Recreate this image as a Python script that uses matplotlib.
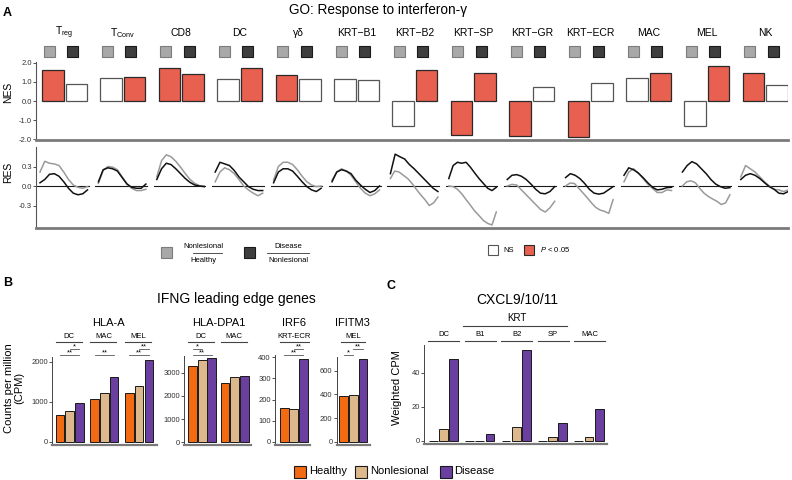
import numpy as np
import matplotlib
matplotlib.use('Agg')
import matplotlib.pyplot as plt
from matplotlib.patches import Rectangle

plt.rcParams['font.family'] = ['Liberation Sans', 'DejaVu Sans']
plt.rcParams['mathtext.fontset'] = 'custom'
plt.rcParams['mathtext.rm'] = 'Liberation Sans'
plt.rcParams['mathtext.it'] = 'Liberation Sans:italic'
plt.rcParams['mathtext.default'] = 'regular'

# ---------------- data ----------------
cell_types = ['T$_{reg}$', 'T$_{Conv}$', 'CD8', 'DC', 'γδ', 'KRT−B1', 'KRT−B2',
              'KRT−SP', 'KRT−GR', 'KRT−ECR', 'MAC', 'MEL', 'NK']
nes_nonlesional_vs_healthy = [1.62, 1.22, 1.72, 1.17, 1.38, 1.16, -1.30, -1.79, -1.84, -1.91, 1.21, -1.30, 1.49]
nes_disease_vs_nonlesional = [0.90, 1.28, 1.42, 1.74, 1.16, 1.10, 1.62, 1.46, 0.72, 0.96, 1.46, 1.83, 0.83]
sig_nonlesional_vs_healthy = [1, 0, 1, 0, 1, 0, 0, 1, 1, 1, 0, 0, 1]
sig_disease_vs_nonlesional = [0, 1, 1, 1, 0, 0, 1, 1, 0, 0, 1, 1, 0]
nes_ticks = [-2, -1, 0, 1, 2]
nes_ticklabels = ['-2.0', '-1.0', '0.0', '1.0', '2.0']
res_ticks = [-0.3, 0.0, 0.3]
res_ticklabels = ['-0.3', '0.0', '0.3']

res_nonlesional_vs_healthy = [
    [0.215, 0.38, 0.35, 0.34, 0.315, 0.215, 0.10, 0.015, -0.02, -0.035, -0.01],
    [0.04, 0.24, 0.30, 0.29, 0.25, 0.14, 0.04, -0.035, -0.07, -0.07, -0.05],
    [0.14, 0.39, 0.48, 0.45, 0.38, 0.29, 0.19, 0.10, 0.04, 0.005, 0.0],
    [0.065, 0.215, 0.28, 0.25, 0.19, 0.10, 0.0, -0.06, -0.11, -0.15, -0.11],
    [0.09, 0.30, 0.365, 0.365, 0.33, 0.25, 0.15, 0.065, 0.015, -0.01, 0.0],
    [0.09, 0.215, 0.265, 0.23, 0.165, 0.065, -0.035, -0.11, -0.15, -0.12, -0.06],
    [0.115, 0.23, 0.215, 0.165, 0.115, 0.04, -0.05, -0.135, -0.21, -0.30, -0.26, -0.17],
    [0.0, -0.01, -0.05, -0.12, -0.21, -0.295, -0.385, -0.455, -0.53, -0.575, -0.60, -0.40],
    [0.0, 0.025, 0.015, -0.06, -0.135, -0.21, -0.285, -0.36, -0.40, -0.335, -0.235],
    [0.0, 0.045, 0.04, -0.03, -0.105, -0.18, -0.26, -0.33, -0.37, -0.39, -0.42, -0.21],
    [0.065, 0.215, 0.265, 0.20, 0.115, 0.03, -0.035, -0.10, -0.10, -0.06, -0.07],
    [0.0, 0.065, 0.08, 0.05, -0.035, -0.11, -0.16, -0.20, -0.235, -0.285, -0.26, -0.135],
    [0.14, 0.315, 0.265, 0.215, 0.14, 0.065, 0.0, -0.05, -0.06, -0.085, -0.06],
]
res_disease_vs_nonlesional = [
    [0.05, 0.10, 0.18, 0.19, 0.15, 0.065, -0.035, -0.11, -0.135, -0.12, -0.06],
    [0.065, 0.25, 0.28, 0.265, 0.23, 0.13, 0.03, -0.02, -0.035, -0.035, 0.03],
    [0.10, 0.265, 0.35, 0.33, 0.265, 0.19, 0.115, 0.055, 0.015, 0.0, -0.01],
    [0.215, 0.365, 0.34, 0.315, 0.24, 0.14, 0.065, -0.01, -0.05, -0.07, -0.07],
    [0.05, 0.215, 0.265, 0.265, 0.23, 0.15, 0.065, -0.01, -0.06, -0.085, -0.035],
    [0.065, 0.215, 0.25, 0.23, 0.19, 0.09, 0.015, -0.05, -0.10, -0.07, 0.0],
    [0.19, 0.49, 0.45, 0.415, 0.33, 0.265, 0.19, 0.115, 0.04, -0.035, -0.085],
    [0.115, 0.315, 0.365, 0.35, 0.365, 0.29, 0.20, 0.115, 0.04, -0.035, -0.07, -0.02],
    [0.10, 0.165, 0.175, 0.15, 0.10, 0.03, -0.05, -0.11, -0.12, -0.085, -0.01],
    [0.13, 0.19, 0.165, 0.115, 0.04, -0.05, -0.11, -0.125, -0.11, -0.06, -0.01],
    [0.165, 0.28, 0.25, 0.20, 0.13, 0.05, -0.02, -0.06, -0.05, -0.025, -0.02],
    [0.215, 0.315, 0.375, 0.34, 0.265, 0.19, 0.10, 0.03, -0.01, -0.035, -0.025],
    [0.10, 0.165, 0.19, 0.165, 0.115, 0.05, -0.01, -0.05, -0.11, -0.12, -0.085],
]

conditions = ['Healthy', 'Nonlesional', 'Disease']

hla_a_groups = ['DC', 'MAC', 'MEL']
hla_a_healthy = [667, 1067, 1217]
hla_a_nonlesional = [775, 1210, 1383]
hla_a_disease = [975, 1617, 2042]
hla_a_ticks = [0, 1000, 2000]
hla_a_sig = [(0, 1, 2, '*', 1), (0, 0, 2, '**', 0), (1, 0, 2, '**', 0), (2, 1, 2, '**', 1), (2, 0, 2, '**', 0)]

hla_dpa1_groups = ['DC', 'MAC']
hla_dpa1_healthy = [3300, 2555]
hla_dpa1_nonlesional = [3560, 2800]
hla_dpa1_disease = [3620, 2870]
hla_dpa1_ticks = [0, 1000, 2000, 3000]
hla_dpa1_sig = [(0, 0, 1, '*', 1), (0, 0, 2, '**', 0)]

irf6_groups = ['KRT-ECR']
irf6_healthy = [158]
irf6_nonlesional = [153]
irf6_disease = [390]
irf6_ticks = [0, 100, 200, 300, 400]
irf6_sig = [(0, 1, 2, '**', 1), (0, 0, 2, '**', 0)]

ifitm3_groups = ['MEL']
ifitm3_healthy = [388]
ifitm3_nonlesional = [394]
ifitm3_disease = [698]
ifitm3_ticks = [0, 200, 400, 600]
ifitm3_sig = [(0, 0, 1, '*', 0), (0, 1, 2, '**', 1)]

cxcl_groups = ['DC', 'B1', 'B2', 'SP', 'MAC']
cxcl_healthy = [0.0, 0.0, 0.0, 0.0, 0.0]
cxcl_nonlesional = [6.7, 0.0, 7.9, 2.0, 2.0]
cxcl_disease = [48.0, 3.8, 53.4, 10.6, 18.5]
cxcl_ticks = [0, 20, 40]

# ---------------- style ----------------
RED = '#E8604F'
COND_COLORS = ['#F26A11', '#DDB88C', '#6A3FA0']
SPINE = '#7a7a7a'

W, H = 792, 480
fig = plt.figure(figsize=(W / 100, H / 100), dpi=100)


def add_ax(x0, y0, x1, y1):
    return fig.add_axes([x0 / W, 1 - y1 / H, (x1 - x0) / W, (y1 - y0) / H])


ov = fig.add_axes([0, 0, 1, 1], zorder=10)
ov.set_xlim(0, W)
ov.set_ylim(H, 0)
ov.axis('off')


def sq(cx, cy, size, fc, ec, lw=0.8):
    ov.add_patch(Rectangle((cx - size / 2, cy - size / 2), size, size, facecolor=fc,
                           edgecolor=ec, linewidth=lw))


def vlabel(x, y, s, fs):
    ov.text(x, y, s, fontsize=fs, rotation=90, ha='center', va='center',
            linespacing=1.0, multialignment='center')


# ---------------- panel A ----------------
GX0, GDX = 64.5, 58.4
centers_a = [GX0 + GDX * i for i in range(len(cell_types))]

ax_nes = add_ax(36, 62, 788, 140)
ax_nes.set_xlim(36, 788)
ax_nes.set_ylim(-2.05, 2.05)
for i, c in enumerate(centers_a):
    for k, (vals, sig) in enumerate([(nes_nonlesional_vs_healthy, sig_nonlesional_vs_healthy),
                                     (nes_disease_vs_nonlesional, sig_disease_vs_nonlesional)]):
        fc = RED if sig[i] else 'white'
        ec = '#2a2a2a' if sig[i] else '#555555'
        ax_nes.bar(c + (k - 0.5) * 23.5, vals[i], width=21.5, color=fc, edgecolor=ec,
                   linewidth=0.9, zorder=3)
ax_nes.set_xticks([])
ax_nes.set_yticks(nes_ticks)
ax_nes.set_yticklabels(nes_ticklabels)
vlabel(8, 92, 'NES', 7.5)

ax_res = add_ax(36, 147, 788, 228)
ax_res.set_xlim(36, 788)
ax_res.set_ylim(-0.646, 0.6)
for i, c in enumerate(centers_a):
    ax_res.plot([c - 27.5, c + 24], [0, 0], color='#1a1a1a', lw=0.8, zorder=2)
    g = res_nonlesional_vs_healthy[i]
    b = res_disease_vs_nonlesional[i]
    ax_res.plot(np.linspace(c - 24.5, c + 23, len(g)), g, color='#9a9a9a', lw=1.1,
                solid_joinstyle='round', zorder=3)
    ax_res.plot(np.linspace(c - 24.5, c + 23, len(b)), b, color='#111111', lw=1.1,
                solid_joinstyle='round', zorder=4)
ax_res.set_xticks([])
ax_res.set_yticks(res_ticks)
ax_res.set_yticklabels(res_ticklabels)
vlabel(8.5, 172, 'RES', 7.5)

for ax in [ax_nes, ax_res]:
    ax.spines['top'].set_visible(False)
    ax.spines['right'].set_visible(False)
    ax.spines['left'].set_color('#555555')
    ax.spines['left'].set_linewidth(0.8)
    ax.spines['bottom'].set_color(SPINE)
    ax.spines['bottom'].set_linewidth(2.0)
    ax.tick_params(axis='y', labelsize=5.5, length=2, width=0.6, pad=1, colors='#333333')

# headers of A
ov.text(378, 10, 'GO: Response to interferon-γ', fontsize=9.8, ha='center', va='center')
ov.text(7.5, 13, 'A', fontsize=9, fontweight='bold', ha='center', va='center')
for i, c in enumerate(centers_a):
    ov.text(c, 33, cell_types[i], fontsize=7.5, ha='center', va='center')
    sq(c - 15.5, 51, 11, '#a8a8a8', '#7c7c7c')
    sq(c + 8, 51, 11, '#3e3e3e', '#1a1a1a')

# legend row
sq(166.7, 252.3, 11, '#a8a8a8', '#7c7c7c')
ov.text(203.3, 246, 'Nonlesional', fontsize=5.5, ha='center', va='center')
ov.plot([193, 221.7], [253.3, 253.3], color='#333333', lw=0.6)
ov.text(203.3, 260.3, 'Healthy', fontsize=5.5, ha='center', va='center')
sq(249, 252.3, 11, '#3e3e3e', '#1a1a1a')
ov.text(288.3, 246, 'Disease', fontsize=5.5, ha='center', va='center')
ov.plot([266.7, 309.3], [253.3, 253.3], color='#333333', lw=0.6)
ov.text(288.3, 260.3, 'Nonlesional', fontsize=5.5, ha='center', va='center')
sq(493.3, 250, 10, 'white', '#555555')
ov.text(503, 250, 'NS', fontsize=5.5, ha='left', va='center')
sq(529.3, 250, 10, RED, '#2a2a2a')
ov.text(540, 250, r'$\mathit{P}$ < 0.05', fontsize=5.5, ha='left', va='center')

# ---------------- panel B / C ----------------
LOW_Y, UP_Y = 354.5, 349.0


def bar_panel(box, groups, series, ylim, yticks, centers, step, width, under, sig=None,
              label_y=336.5, line_y=341.5):
    ax = add_ax(*box)
    ax.set_xlim(box[0], box[2])
    ax.set_ylim(*ylim)
    for k, vals in enumerate(series):
        ax.bar([c + (k - 1) * step for c in centers], vals, width=width, color=COND_COLORS[k],
               edgecolor='#1a1a1a', linewidth=0.7, zorder=3)
    ax.set_xticks([])
    ax.set_yticks(yticks)
    ax.tick_params(axis='y', labelsize=5.5, length=2, width=0.6, pad=1, colors='#333333')
    ax.spines['top'].set_visible(False)
    ax.spines['right'].set_visible(False)
    ax.spines['left'].set_color('#444444')
    ax.spines['left'].set_linewidth(0.7)
    ax.spines['bottom'].set_color(SPINE)
    ax.spines['bottom'].set_linewidth(1.6)
    for g, c in zip(groups, centers):
        ov.text(c + (under[0] + under[1]) / 2, label_y, g, fontsize=5.5, ha='center', va='center')
        ov.plot([c + under[0], c + under[1]], [line_y, line_y], color='#444444', lw=0.8)
    if sig:
        for gi, a, b, lab, lev in sig:
            y = UP_Y if lev else LOW_Y
            xa = centers[gi] + (a - 1) * step
            xb = centers[gi] + (b - 1) * step
            ov.plot([xa, xb], [y, y], color='#555555', lw=0.6)
            ov.text((xa + xb) / 2, y + 1.8, lab, fontsize=5.5, ha='center', va='bottom')
    return ax


bar_panel((52.3, 356.7, 157, 445), hla_a_groups,
          [hla_a_healthy, hla_a_nonlesional, hla_a_disease], (-82, 2125), hla_a_ticks,
          [69.7 + 34.7 * j for j in range(len(hla_a_groups))], 9.7, 8.6, (-14, 12), hla_a_sig)
vlabel(14, 388, 'Counts per million\n(CPM)', 8)

bar_panel((184, 356, 251, 445), hla_dpa1_groups,
          [hla_dpa1_healthy, hla_dpa1_nonlesional, hla_dpa1_disease], (-116, 3720), hla_dpa1_ticks,
          [202.2 + 32.5 * j for j in range(len(hla_dpa1_groups))], 9.6, 8.7, (-14, 12), hla_dpa1_sig)

bar_panel((275, 355, 310, 445), irf6_groups,
          [irf6_healthy, irf6_nonlesional, irf6_disease], (-15.6, 411), irf6_ticks,
          [293.7], 9.5, 8.8, (-14, 15), irf6_sig)

bar_panel((336.7, 356.7, 370, 445), ifitm3_groups,
          [ifitm3_healthy, ifitm3_nonlesional, ifitm3_disease], (-28, 720), ifitm3_ticks,
          [353.4], 9.7, 8.7, (-12, 12), ifitm3_sig)

bar_panel((424, 345, 607, 444), cxcl_groups,
          [cxcl_healthy, cxcl_nonlesional, cxcl_disease], (-1.94, 56.3), cxcl_ticks,
          [443.3 + 36.4 * j for j in range(len(cxcl_groups))], 10.2, 8.8, (-15, 16),
          label_y=334, line_y=341)
vlabel(397, 388, 'Weighted CPM', 8)

# titles / headers B & C
ov.text(8, 283, 'B', fontsize=9, fontweight='bold', ha='center', va='center')
ov.text(391, 286, 'C', fontsize=9, fontweight='bold', ha='center', va='center')
ov.text(236, 298.5, 'IFNG leading edge genes', fontsize=10, ha='center', va='center')
ov.text(108.3, 322.7, 'HLA-A', fontsize=8, ha='center', va='center')
ov.text(219.3, 322.7, 'HLA-DPA1', fontsize=8, ha='center', va='center')
ov.text(294, 322.7, 'IRF6', fontsize=8, ha='center', va='center')
ov.text(352, 322.7, 'IFITM3', fontsize=8, ha='center', va='center')
ov.text(517, 300.5, 'CXCL9/10/11', fontsize=10, ha='center', va='center')
ov.text(516.7, 318.3, 'KRT', fontsize=7, ha='center', va='center')
ov.plot([463, 567], [325.7, 325.7], color='#444444', lw=0.8)

# bottom legend
for k, (cond, x) in enumerate(zip(conditions, [300, 361, 445.5])):
    sq(x, 471.5, 12, COND_COLORS[k], '#1a1a1a', lw=0.8)
    ov.text(x + 9, 471.5, cond, fontsize=8, ha='left', va='center')

fig.savefig('out.png', dpi=100)
